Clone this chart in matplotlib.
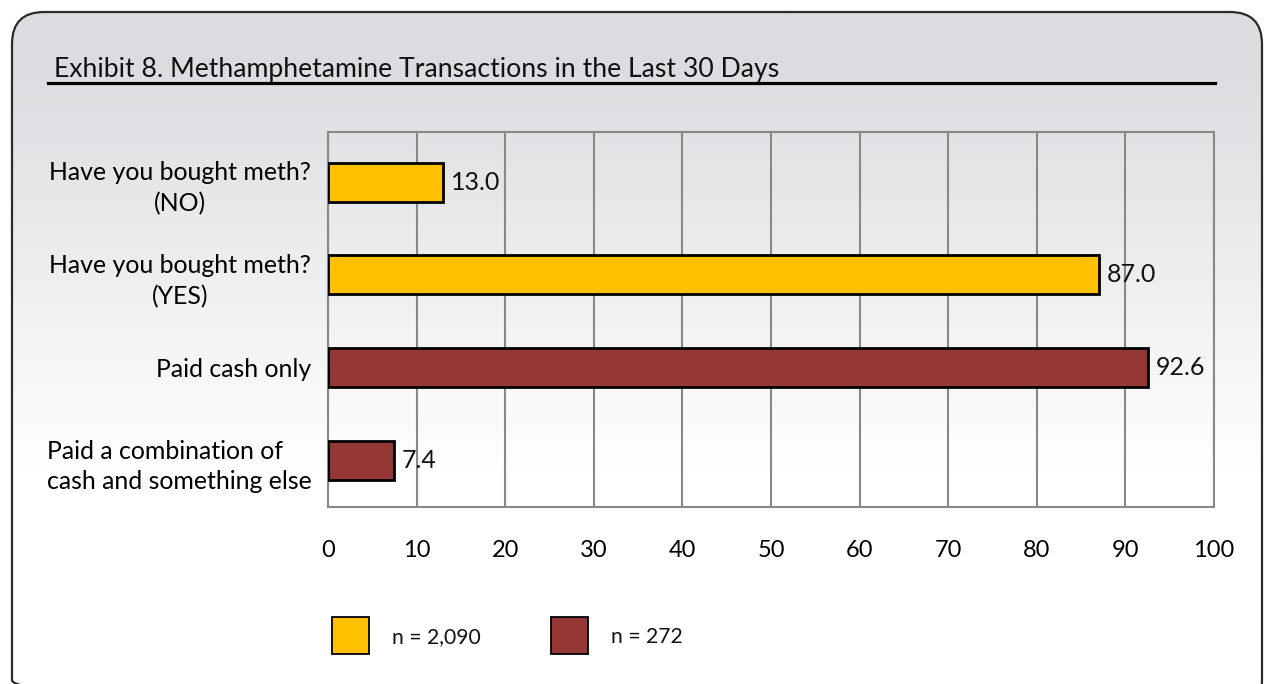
import numpy as np
import matplotlib.pyplot as plt
from matplotlib.patches import FancyBboxPatch, Rectangle

categories = ["Have you bought meth?\n(NO)", "Have you bought meth?\n(YES)",
              "Paid cash only", "Paid a combination of\ncash and something else"]
values = [13.0, 87.0, 92.6, 7.4]
groups = [0, 0, 1, 1]
colors = ["#FFC000", "#953735"]
legend_labels = ["n = 2,090", "n = 272"]
xticks = list(range(0, 101, 10))
title = "Exhibit 8. Methamphetamine Transactions in the Last 30 Days"

plt.rcParams['font.family'] = ['Lato', 'DejaVu Sans']
W, H = 1267, 684
fig = plt.figure(figsize=(W / 100, H / 100), dpi=100)

# background panel with rounded border and gray->white gradient
bg = fig.add_axes([0, 0, 1, 1])
bg.set_xlim(0, W)
bg.set_ylim(H, 0)
bg.axis('off')
top = np.array([219, 220, 223]) / 255
t = np.clip((np.linspace(12, 700, 400) - 60) / 400, 0, 1)[:, None]
grad = top * (1 - t) + 1.0 * t
grad = grad[:, None, :]
box = FancyBboxPatch((12, 12), 1250, 700, boxstyle="round,pad=0,rounding_size=32",
                     facecolor='none', edgecolor='#2b2b2b', lw=1.6, zorder=2)
bg.add_patch(box)
im = bg.imshow(grad, extent=(12, 1262, 712, 12), aspect='auto', zorder=1)
im.set_clip_path(box)

fig.text(54 / W, 1 - 77 / H, title, fontsize=19.2, va='baseline', ha='left', color='#111111')
bg.plot([48, 1215], [83, 83], color='black', lw=2.3, zorder=3)

# main chart
ax = fig.add_axes([328 / W, 1 - 507 / H, (1214 - 328) / W, (507 - 132) / H])
ax.patch.set_alpha(0)
ypos = np.arange(len(categories))
ax.barh(ypos, values, height=0.42, color=[colors[g] for g in groups],
        edgecolor='black', linewidth=2, zorder=3)
for y, v in zip(ypos, values):
    ax.annotate(f"{v:.1f}", (v, y), xytext=(5.5, 0), textcoords='offset points',
                va='center', ha='left', fontsize=18, color='#111111')

ax.set_xlim(0, 100)
ax.set_ylim(3.5, -0.54)
ax.set_xticks(xticks)
ax.set_xticklabels([str(x) for x in xticks], fontsize=17)
ax.set_yticks(ypos)
ax.set_yticklabels(categories, fontsize=17.9)
for lab, al in zip(ax.get_yticklabels(), ['center', 'center', 'center', 'left']):
    lab.set_multialignment(al)
    lab.set_linespacing(1.4)
ax.tick_params(axis='y', length=0, pad=12)
ax.tick_params(axis='x', length=0, pad=24)
ax.grid(axis='x', color='#888888', lw=1.5, zorder=0)
for s in ax.spines.values():
    s.set_color('#888888')
    s.set_linewidth(1.5)

# legend
for i, (c, lab) in enumerate(zip(colors, legend_labels)):
    x0 = 332 + i * 219
    bg.add_patch(Rectangle((x0, 617), 37, 37, facecolor=c, edgecolor='black', lw=1.3, zorder=3))
    bg.text(x0 + 60, 637, lab, fontsize=15.2, va='center', ha='left', color='#111111')

fig.savefig('out.png', dpi=100)
